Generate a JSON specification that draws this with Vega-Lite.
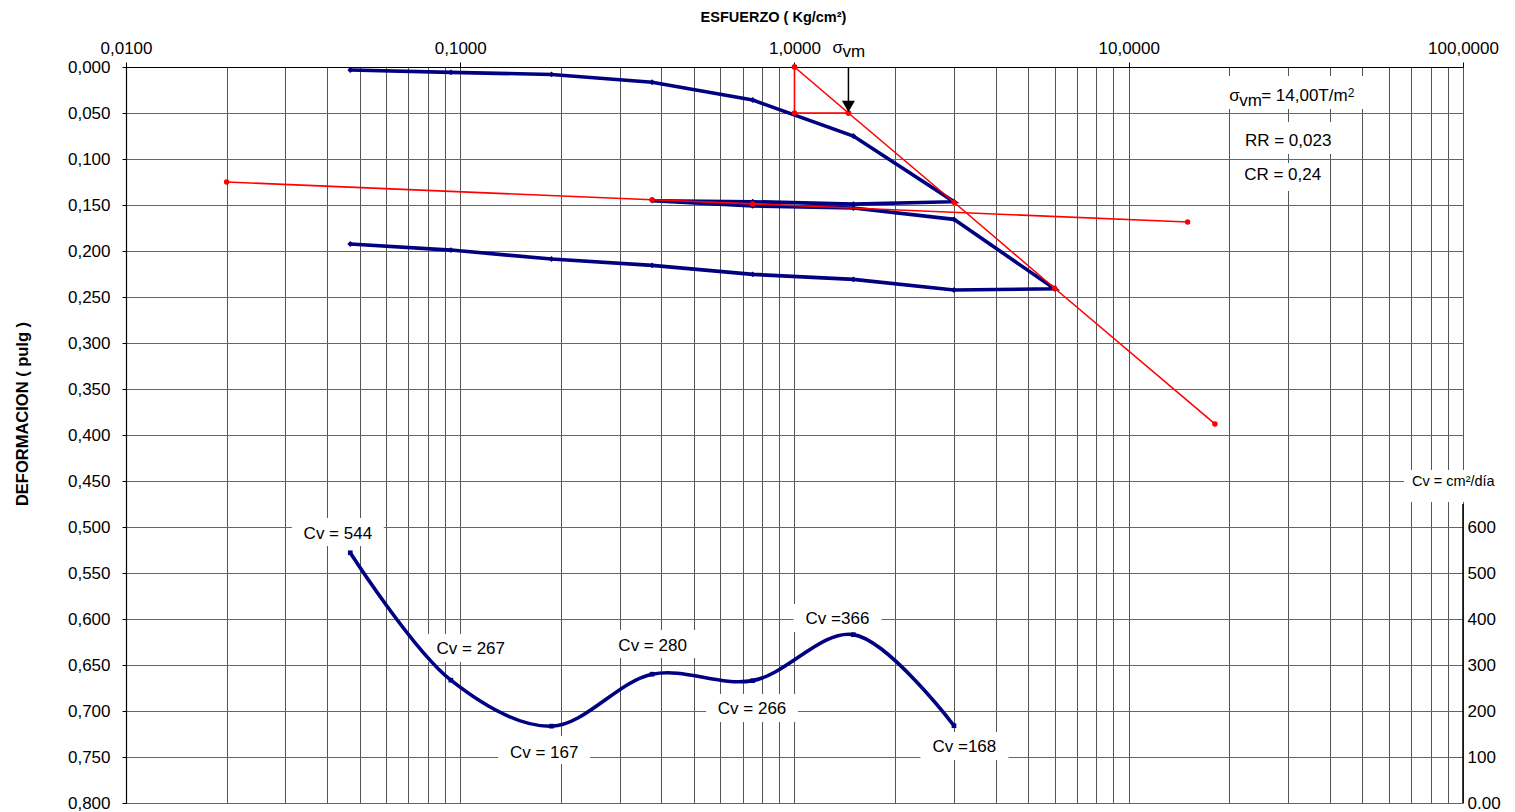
{
  "$schema": "https://vega.github.io/schema/vega-lite/v6.json",
  "width": 1337,
  "height": 736,
  "autosize": {"type": "none"},
  "padding": {"left": 126, "top": 67, "right": 52, "bottom": 9},
  "background": "white",
  "config": {
    "view": {"stroke": null},
    "font": "Liberation Sans",
    "axis": {"labelFont": "Liberation Sans", "titleFont": "Liberation Sans", "labelColor": "black", "titleColor": "black"},
    "text": {"font": "Liberation Sans", "color": "black"}
  },
  "datasets": {
    "consolidacion": [
      {"seq": 1, "x": 0.046875, "y": 0.0033},
      {"seq": 2, "x": 0.09375, "y": 0.0058},
      {"seq": 3, "x": 0.1875, "y": 0.0081},
      {"seq": 4, "x": 0.375, "y": 0.0166},
      {"seq": 5, "x": 0.75, "y": 0.0359},
      {"seq": 6, "x": 1.5, "y": 0.075},
      {"seq": 7, "x": 3.0, "y": 0.1464},
      {"seq": 8, "x": 1.5, "y": 0.149},
      {"seq": 9, "x": 0.75, "y": 0.1464},
      {"seq": 10, "x": 0.375, "y": 0.1453},
      {"seq": 11, "x": 0.75, "y": 0.151},
      {"seq": 12, "x": 1.5, "y": 0.1533},
      {"seq": 13, "x": 3.0, "y": 0.1656},
      {"seq": 14, "x": 6.0, "y": 0.241},
      {"seq": 15, "x": 3.0, "y": 0.2424},
      {"seq": 16, "x": 1.5, "y": 0.2308},
      {"seq": 17, "x": 0.75, "y": 0.2254},
      {"seq": 18, "x": 0.375, "y": 0.2156},
      {"seq": 19, "x": 0.1875, "y": 0.2087},
      {"seq": 20, "x": 0.09375, "y": 0.199},
      {"seq": 21, "x": 0.046875, "y": 0.1924}
    ],
    "construccion": [
      {"part": "tri", "seq": 1, "x": 1.0, "y": 0.0},
      {"part": "tri", "seq": 2, "x": 1.0, "y": 0.05},
      {"part": "tri", "seq": 3, "x": 1.45, "y": 0.05},
      {"part": "cc", "seq": 1, "x": 1.0, "y": 0.0},
      {"part": "cc", "seq": 2, "x": 1.45, "y": 0.05},
      {"part": "cc", "seq": 3, "x": 3.0, "y": 0.147},
      {"part": "cc", "seq": 4, "x": 6.0, "y": 0.2405},
      {"part": "cc", "seq": 5, "x": 18.1, "y": 0.388},
      {"part": "cs", "seq": 1, "x": 0.02, "y": 0.125},
      {"part": "cs", "seq": 2, "x": 0.375, "y": 0.1443},
      {"part": "cs", "seq": 3, "x": 0.75, "y": 0.1488},
      {"part": "cs", "seq": 4, "x": 15.0, "y": 0.1685}
    ],
    "cv": [
      {"x": 0.046875, "cv": 544},
      {"x": 0.09375, "cv": 267},
      {"x": 0.1875, "cv": 167},
      {"x": 0.375, "cv": 280},
      {"x": 0.75, "cv": 266},
      {"x": 1.5, "cv": 366},
      {"x": 3.0, "cv": 168}
    ],
    "cvEtiquetas": [
      {"t": "Cv = 544", "x": 0.043036, "y": 0.51272},
      {"t": "Cv = 267", "x": 0.1075, "y": 0.63804},
      {"t": "Cv = 167", "x": 0.17828, "y": 0.75109},
      {"t": "Cv = 280", "x": 0.37627, "y": 0.63446},
      {"t": "Cv = 266", "x": 0.74642, "y": 0.70326},
      {"t": "Cv =366", "x": 1.3446, "y": 0.60543},
      {"t": "Cv =168", "x": 3.2228, "y": 0.74489}
    ],
    "cajas": [
      {"x": 19.16, "x2": 50.93, "y": 0.009783, "y2": 0.045652},
      {"x": 20.96, "x2": 43.18, "y": 0.059783, "y2": 0.094565},
      {"x": 20.96, "x2": 39.76, "y": 0.104348, "y2": 0.134783},
      {"x": 66.62, "x2": 142.1, "y": 0.43804, "y2": 0.47283},
      {"x": 0.031355, "x2": 0.059064, "y": 0.49022, "y2": 0.52065},
      {"x": 0.078305, "x2": 0.14755, "y": 0.6163, "y2": 0.64674},
      {"x": 0.12989, "x2": 0.24467, "y": 0.72717, "y2": 0.75761},
      {"x": 0.27414, "x2": 0.51642, "y": 0.61196, "y2": 0.64239},
      {"x": 0.54376, "x2": 1.0244, "y": 0.68152, "y2": 0.71196},
      {"x": 0.99314, "x2": 1.82, "y": 0.5837, "y2": 0.61413},
      {"x": 2.3808, "x2": 4.3632, "y": 0.72283, "y2": 0.75326}
    ],
    "notas": [
      {"t": "σ", "x": 1.2989, "y": -0.014891},
      {"t": "vm", "x": 1.3918, "y": -0.011196},
      {"t": "σ", "x": 19.97, "y": 0.036957},
      {"t": "vm", "x": 21.4, "y": 0.042065},
      {"t": "= 14,00T/m", "x": 24.9, "y": 0.036957},
      {"t": "RR = 0,023", "x": 22.26, "y": 0.08587},
      {"t": "CR = 0,24", "x": 22.15, "y": 0.122826}
    ]
  },
  "encoding": {
    "x": {
      "field": "x",
      "type": "quantitative",
      "scale": {"type": "log", "domain": [0.01, 100], "nice": false},
      "axis": {
        "orient": "top",
        "title": "ESFUERZO ( Kg/cm²)",
        "titleFontSize": 14.5,
        "titleFontWeight": "bold",
        "titleX": 647,
        "titleY": -46,
        "titleAlign": "center",
        "titleBaseline": "alphabetic",
        "values": [0.01, 0.02, 0.03, 0.04, 0.05, 0.06, 0.07, 0.08, 0.09, 0.1, 0.2, 0.3, 0.4, 0.5, 0.6, 0.7, 0.8, 0.9, 1, 2, 3, 4, 5, 6, 7, 8, 9, 10, 20, 30, 40, 50, 60, 70, 80, 90, 100],
        "labelExpr": "indexof([0.01, 0.1, 1, 10, 100], datum.value) >= 0 ? replace(format(datum.value, '.4f'), '.', ',') : ''",
        "labelFontSize": 17,
        "labelPadding": 5,
        "labelFlush": false,
        "labelOverlap": false,
        "labelBound": false,
        "tickSize": 5,
        "tickColor": {"condition": {"test": "indexof([0.01, 0.1, 1, 10, 100], datum.value) >= 0", "value": "black"}, "value": "transparent"},
        "domainColor": "black",
        "domainWidth": 1.2,
        "grid": true,
        "gridColor": "#555555",
        "gridWidth": 1
      }
    }
  },
  "layer": [
    {
      "encoding": {
        "y": {
          "field": "y",
          "type": "quantitative",
          "scale": {"domain": [0, 0.8], "reverse": true, "nice": false, "zero": false},
          "axis": {
            "orient": "left",
            "title": "DEFORMACION ( pulg )",
            "titleFontSize": 16.5,
            "titleFontWeight": "bold",
            "titleAngle": -90,
            "titleX": -99,
            "titleY": 346.5,
            "titleAlign": "center",
            "titleBaseline": "alphabetic",
            "values": [0, 0.05, 0.1, 0.15, 0.2, 0.25, 0.3, 0.35, 0.4, 0.45, 0.5, 0.55, 0.6, 0.65, 0.7, 0.75, 0.8],
            "labelExpr": "replace(format(datum.value, '.3f'), '.', ',')",
            "labelFontSize": 17,
            "labelPadding": 12,
            "labelOverlap": false,
            "labelFlush": false,
            "tickSize": 4,
            "tickColor": "black",
            "domainColor": "black",
            "domainWidth": 1.2,
            "grid": true,
            "gridColor": "#666666",
            "gridWidth": 1
          }
        }
      },
      "layer": [
        {
          "data": {"name": "cajas"},
          "mark": {"type": "rect", "fill": "white", "stroke": null},
          "encoding": {"x2": {"field": "x2"}, "y2": {"field": "y2"}}
        },
        {
          "data": {"name": "consolidacion"},
          "mark": {"type": "line", "color": "#000080", "strokeWidth": 3.6, "point": {"shape": "diamond", "size": 34, "filled": true, "color": "#000080"}},
          "encoding": {"order": {"field": "seq", "type": "quantitative"}}
        },
        {
          "data": {"name": "construccion"},
          "mark": {"type": "line", "color": "#ff0000", "strokeWidth": 1.6, "point": {"shape": "circle", "size": 30, "filled": true, "color": "#ff0000"}},
          "encoding": {"detail": {"field": "part"}, "order": {"field": "seq", "type": "quantitative"}}
        },
        {
          "data": {"values": [{"x": 1.45, "y": 0, "y2": 0.037}]},
          "mark": {"type": "rule", "color": "black", "strokeWidth": 1.5},
          "encoding": {"y2": {"field": "y2"}}
        },
        {
          "data": {"values": [{"x": 1.45, "y": 0.0428}]},
          "mark": {"type": "point", "shape": "triangle-down", "size": 170, "filled": true, "color": "black", "opacity": 1}
        },
        {
          "data": {"name": "notas"},
          "mark": {"type": "text", "fontSize": 17, "align": "left", "baseline": "alphabetic"},
          "encoding": {"text": {"field": "t"}}
        },
        {
          "data": {"values": [{"t": "2", "x": 45.2, "y": 0.032609}]},
          "mark": {"type": "text", "fontSize": 12, "align": "left", "baseline": "alphabetic"},
          "encoding": {"text": {"field": "t"}}
        },
        {
          "data": {"values": [{"t": "Cv =  cm²/día", "x": 70.41, "y": 0.45543}]},
          "mark": {"type": "text", "fontSize": 14.5, "align": "left", "baseline": "alphabetic"},
          "encoding": {"text": {"field": "t"}}
        },
        {
          "data": {"name": "cvEtiquetas"},
          "mark": {"type": "text", "fontSize": 17, "align": "center", "baseline": "alphabetic"},
          "encoding": {"text": {"field": "t"}}
        }
      ]
    },
    {
      "data": {"name": "cv"},
      "encoding": {
        "y": {
          "field": "cv",
          "type": "quantitative",
          "scale": {"domain": [0, 1600], "nice": false, "zero": false},
          "axis": {
            "orient": "right",
            "title": null,
            "values": [0, 100, 200, 300, 400, 500, 600],
            "labelExpr": "datum.value == 0 ? '0.00' : format(datum.value, 'd')",
            "labelFontSize": 17,
            "labelPadding": 4,
            "labelOverlap": false,
            "labelFlush": false,
            "ticks": false,
            "domain": false,
            "grid": false
          }
        }
      },
      "layer": [
        {
          "mark": {"type": "line", "interpolate": "catmull-rom", "color": "#000080", "strokeWidth": 3.6, "point": {"shape": "square", "size": 22, "filled": true, "color": "#000080"}}
        },
        {
          "data": {"values": [{"x": 100, "cv": 0, "cv2": 650}]},
          "mark": {"type": "rule", "color": "black", "strokeWidth": 1.5},
          "encoding": {"y2": {"field": "cv2"}}
        }
      ]
    }
  ],
  "resolve": {"scale": {"y": "independent"}, "axis": {"y": "independent"}}
}
